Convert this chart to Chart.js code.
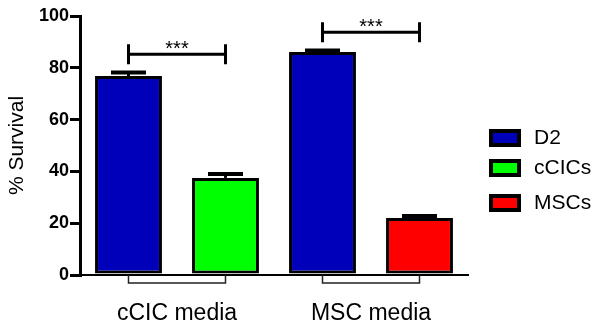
<!DOCTYPE html>
<html lang="en">
<head>
<meta charset="UTF-8">
<title>% Survival</title>
<script src="https://cdn.jsdelivr.net/npm/chart.js"></script>
<style>
  html, body { margin: 0; padding: 0; background: #fff; }
  .chart-container { width: 597px; height: 326px; position: relative; }
</style>
</head>
<body>
<div class="chart-container"><canvas id="survivalChart"></canvas></div>
<script>
// data
const groups = ['cCIC media', 'MSC media'];
const seriesNames = ['D2', 'cCICs', 'MSCs'];
const seriesColors = ['#0000BB', '#00FF00', '#FF0000'];
const d2Values = [76.8, 86.1];
const ccicValues = [37.5, null];
const mscValues = [null, 22.0];
const d2Errors = [1.4, 0.6];
const ccicErrors = [1.5, null];
const mscErrors = [null, 0.8];
const significance = ['***', '***'];
const yTicks = [0, 20, 40, 60, 80, 100];

const FONT = 'Arial, "Liberation Sans", sans-serif';
const errors = [d2Errors, ccicErrors, mscErrors];

// error bars, significance brackets, group lines under the axis, legend
const extrasPlugin = {
    id: 'extras',
    afterDatasetsDraw(chart) {
        const ctx = chart.ctx;
        const y = chart.scales.y;
        const area = chart.chartArea;
        ctx.save();
        ctx.strokeStyle = '#000';
        ctx.lineCap = 'butt';

        // error bars (upper half only, lower half hidden by bar)
        const tops = groups.map(() => []);
        chart.data.datasets.forEach((ds, di) => {
            const meta = chart.getDatasetMeta(di);
            meta.data.forEach((bar, i) => {
                const v = ds.data[i];
                if (v === null) return;
                const err = errors[di][i];
                const yTop = y.getPixelForValue(v + err);
                ctx.lineWidth = 3;
                ctx.beginPath();
                ctx.moveTo(bar.x, bar.y);
                ctx.lineTo(bar.x, yTop);
                ctx.stroke();
                ctx.lineWidth = 4;
                ctx.beginPath();
                ctx.moveTo(bar.x - 17.5, yTop);
                ctx.lineTo(bar.x + 17.5, yTop);
                ctx.stroke();
                tops[i].push({ x: bar.x, v: v + err });
            });
        });

        // significance brackets and group lines
        tops.forEach((pair, i) => {
            if (pair.length < 2) return;
            const x1 = pair[0].x, x2 = pair[1].x;
            const level = Math.max(pair[0].v, pair[1].v) + 7;
            const py = y.getPixelForValue(level);
            ctx.lineWidth = 3;
            ctx.beginPath();
            ctx.moveTo(x1, py); ctx.lineTo(x2, py);
            ctx.moveTo(x1, py - 10); ctx.lineTo(x1, py + 10);
            ctx.moveTo(x2, py - 10); ctx.lineTo(x2, py + 10);
            ctx.stroke();
            ctx.fillStyle = '#000';
            ctx.font = '20px ' + FONT;
            ctx.textAlign = 'center';
            ctx.textBaseline = 'alphabetic';
            ctx.fillText(significance[i], (x1 + x2) / 2, py + 1);

            ctx.lineWidth = 1.5;
            ctx.strokeStyle = '#222';
            ctx.beginPath();
            ctx.moveTo(x1, area.bottom);
            ctx.lineTo(x1, area.bottom + 8);
            ctx.lineTo(x2, area.bottom + 8);
            ctx.lineTo(x2, area.bottom);
            ctx.stroke();
            ctx.strokeStyle = '#000';
        });

        // legend
        const rowTops = [129, 159, 194];
        ctx.font = '21px ' + FONT;
        ctx.textAlign = 'left';
        ctx.textBaseline = 'middle';
        seriesNames.forEach((name, i) => {
            ctx.fillStyle = seriesColors[i];
            ctx.fillRect(491, rowTops[i] + 2, 28, 14);
            ctx.lineWidth = 4;
            ctx.strokeRect(491, rowTops[i] + 2, 28, 14);
            ctx.fillStyle = '#000';
            ctx.fillText(name, 534, rowTops[i] + 9);
        });
        ctx.restore();
    }
};

const ctx = document.getElementById('survivalChart').getContext('2d');
const chart = new Chart(ctx, {
    type: 'bar',
    data: {
        labels: groups,
        datasets: [
            { label: seriesNames[0], data: d2Values, backgroundColor: seriesColors[0] },
            { label: seriesNames[1], data: ccicValues, backgroundColor: seriesColors[1] },
            { label: seriesNames[2], data: mscValues, backgroundColor: seriesColors[2] }
        ].map(ds => Object.assign(ds, {
            borderColor: '#000',
            borderWidth: 3,
            borderSkipped: false,
            skipNull: true,
            categoryPercentage: 1.0,
            barPercentage: 0.69
        }))
    },
    options: {
        responsive: true,
        maintainAspectRatio: false,
        animation: false,
        layout: { padding: { top: 16, right: 129, left: 0, bottom: 0 } },
        plugins: {
            legend: { display: false },
            tooltip: { enabled: false }
        },
        scales: {
            x: {
                grid: { display: false, drawTicks: false },
                border: { display: true, color: '#000', width: 2 },
                ticks: {
                    color: '#000',
                    font: { family: FONT, size: 23 },
                    padding: 25
                },
                afterFit(scale) { scale.height = 51; }
            },
            y: {
                min: 0,
                max: 100,
                afterBuildTicks(scale) { scale.ticks = yTicks.map(v => ({ value: v })); },
                grid: {
                    drawOnChartArea: false,
                    drawTicks: true,
                    tickLength: 10,
                    lineWidth: 3,
                    color: '#000'
                },
                border: { display: true, color: '#000', width: 3 },
                ticks: {
                    color: '#000',
                    font: { family: FONT, size: 18, weight: 'bold' },
                    padding: 1
                },
                title: {
                    display: true,
                    text: '% Survival',
                    color: '#000',
                    font: { family: FONT, size: 21 },
                    padding: { top: 5, bottom: 0 }
                },
                afterFit(scale) { scale.width = 80; }
            }
        }
    },
    plugins: [extrasPlugin]
});
</script>
</body>
</html>
